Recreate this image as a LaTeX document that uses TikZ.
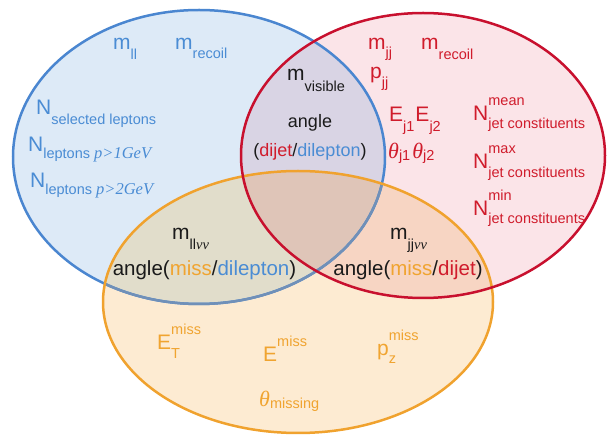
\documentclass[tikz,border=0pt]{standalone}
\usepackage{fontspec}
\setmainfont{Liberation Sans}
\newfontfamily\serf{Liberation Serif}
\definecolor{lineB}{HTML}{4A86D0}
\definecolor{lineBO}{HTML}{7090B8}
\definecolor{lineR}{HTML}{C8102E}
\definecolor{lineO}{HTML}{F0A22E}
\definecolor{fB}{HTML}{DDEAF7}
\definecolor{fR}{HTML}{FBE4E8}
\definecolor{fO}{HTML}{FDEBD2}
\definecolor{fBR}{HTML}{D9D4E4}
\definecolor{fBO}{HTML}{E1DDCB}
\definecolor{fRO}{HTML}{F7D5C3}
\definecolor{fBRO}{HTML}{DFC5B8}
\definecolor{tB}{HTML}{4A8CD4}
\definecolor{tR}{HTML}{D01C2C}
\definecolor{tO}{HTML}{F0A430}
\definecolor{tK}{HTML}{1A1A1A}
\newcommand\subsz{\fontsize{14.5}{14.5}\selectfont}
\newcommand\sbs[3][-8pt]{#2\raisebox{#1}{\subsz #3}}
\newcommand\sps[3][15pt]{#2\raisebox{#1}{\subsz #3}}
\newcommand\spsb[4][-8pt]{#2\rlap{\raisebox{15pt}{\subsz #3}}\raisebox{#1}{\subsz #4}}
\newcommand\itx[1]{{\serf\itshape\fontsize{16.5}{16.5}\selectfont #1}}
\begin{document}
\begin{tikzpicture}[x=1pt,y=-1pt,
  lab/.style={inner sep=0pt, anchor=base west, font=\fontsize{21}{21}\selectfont},
  mid/.style={inner sep=0pt, anchor=base, font=\fontsize{18}{18}\selectfont, text=tK},
  big/.style={inner sep=0pt, anchor=base, font=\fontsize{20.5}{20.5}\selectfont, text=tK},
  edge/.style={line width=2.5pt}]
\useasboundingbox (0,0) rectangle (611,435);
\def\pathB{(199,157) ellipse [x radius=186pt, y radius=147pt]}
\def\pathR{(423,155.5) ellipse [x radius=182pt, y radius=142.5pt]}
\def\pathO{(298,302) ellipse [x radius=195pt, y radius=131pt]}
% fills
\fill[fB] \pathB;
\fill[fR] \pathR;
\fill[fO] \pathO;
\begin{scope}
  \clip \pathR;
  \fill[fRO] \pathO;
\end{scope}
\begin{scope}
  \clip \pathB;
  \fill[fBR] \pathR;
  \fill[fBO] \pathO;
  \clip \pathR;
  \fill[fBRO] \pathO;
\end{scope}
% outlines
\draw[edge, lineB] \pathB;
\begin{scope}
  \clip \pathO;
  \draw[edge, lineBO] \pathB;
\end{scope}
\draw[edge, lineO] \pathO;
\draw[edge, lineR] \pathR;
% blue set
\node[lab, text=tB] (mll) at (113,50) {\sbs[-10pt]{m}{ll}};
\node[lab, text=tB] (mrecB) at (175,50) {\sbs[-9pt]{m}{recoil}};
\node[lab, text=tB] (nsel) at (36,115) {\sbs[-10pt]{N}{selected leptons}};
\node[lab, text=tB] (nlep1) at (28,152) {\sbs[-7pt]{N}{leptons \itx{p>1GeV}}};
\node[lab, text=tB] (nlep2) at (30,188) {\sbs[-7pt]{N}{leptons \itx{p>2GeV}}};
% red set
\node[lab, text=tR] (mjj) at (368,50) {\sbs[-8pt]{m}{jj}};
\node[lab, text=tR] (mrecR) at (421,50) {\sbs[-10pt]{m}{recoil}};
\node[lab, text=tR] (pjj) at (370,79) {\sbs[-9pt]{p}{jj}};
\node[lab, text=tR] (ej) at (389,122) {\sbs[-10pt]{E}{j1}\hspace{1pt}\sbs[-10pt]{E}{j2}};
\node[lab, text=tR] (thj) at (388,159) {\sbs[-2pt]{{\serf\itshape\fontsize{22}{22}\selectfont θ}}{j1}\hspace{2pt}\sbs[-2pt]{{\serf\itshape\fontsize{22}{22}\selectfont θ}}{j2}};
\node[lab, text=tR] (nmean) at (473,121) {\spsb[-8pt]{N}{mean}{jet constituents}};
\node[lab, text=tR] (nmax) at (473,169) {\spsb[-9pt]{N}{max}{jet constituents}};
\node[lab, text=tR] (nmin) at (473,216) {\spsb[-8pt]{N}{min}{jet constituents}};
% blue & red
\node[lab, text=tK] (mvis) at (287,81) {\sbs[-11pt]{m}{visible}};
\node[mid] (ang) at (310,128) {angle};
\node[mid] (angdd) at (310,157) {(\textcolor{tR}{dijet}/\textcolor{tB}{dilepton})};
% blue & orange
\node[lab, text=tK] (mllnn) at (172,240) {\sbs[-10pt]{m}{ll{\serf\itshape νν}}};
\node[big] (angmd) at (204.5,276) {angle(\textcolor{tO}{miss}/\textcolor{tB}{dilepton})};
% red & orange
\node[lab, text=tK] (mjjnn) at (390,240) {\sbs[-10pt]{m}{jj{\serf\itshape νν}}};
\node[big] (angmj) at (408,276) {angle(\textcolor{tO}{miss}/\textcolor{tR}{dijet})};
% orange set
\node[lab, text=tO] (etm) at (157,350) {\spsb[-9pt]{E}{miss}{T}};
\node[lab, text=tO] (em) at (263,362) {\sps[15pt]{E}{miss}};
\node[lab, text=tO] (pzm) at (377,356) {\spsb[-8pt]{p}{miss}{z}};
\node[lab, text=tO] (thm) at (259,407) {\sbs[-2pt]{{\serf\itshape\fontsize{22}{22}\selectfont θ}}{missing}};
\end{tikzpicture}
\end{document}
